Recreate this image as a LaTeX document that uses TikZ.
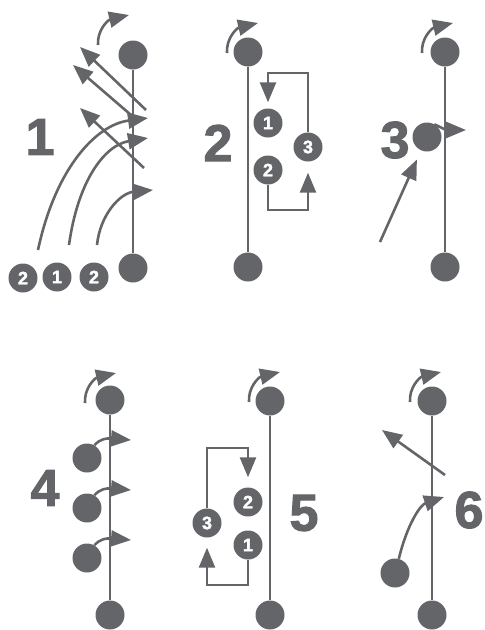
\documentclass[tikz,border=0pt]{standalone}
\usepackage{fontspec}
\setmainfont{Liberation Sans}
\newfontfamily\drillfont{Liberation Sans Bold}[FakeBold=2]
\usepackage{tikz}
\usetikzlibrary{arrows.meta}
\definecolor{playergray}{RGB}{100,101,105}
\tikzset{
    player/.style={circle, fill=playergray, minimum size=29pt, inner sep=0pt,
        font=\fontsize{18}{18}\drillfont, text=white},
    post/.style={draw=playergray, line width=2.6pt},
    route/.style={post, -{Triangle[length=20pt, width=16pt]}},
    drill/.style={font=\fontsize{52}{52}\drillfont, text=playergray}
}

\begin{document}
\begin{tikzpicture}[x=1pt, y=-1pt]
    \useasboundingbox (0,0) rectangle (485,630);
    % 1
    \node[player] (t1) at (133,55) {};
    \node[player] (b1) at (133,268) {};
    \node[player] (n1a) at (23,278) {2};
    \node[player] (n1b) at (57,277) {1};
    \node[player] (n1c) at (94,277) {2};
    \node[drill] (d1) at (40,137) {1};
    \draw[post] (t1) -- (b1);
    \draw[route] (98,45) .. controls (97,30) and (108,20) .. (129,15);
    \draw[route] (146,110) -- (80,47);
    \draw[route] (138,121) -- (73,65);
    \draw[route] (144,168) -- (80,108);
    \draw[route] (38,250) .. controls (55,170) and (95,125) .. (148,118);
    \draw[route] (69,245) .. controls (78,180) and (105,145) .. (148,138);
    \draw[route] (97,245) .. controls (100,215) and (120,193) .. (153,190);
    % 2
    \node[player] (t2) at (248,52) {};
    \node[player] (b2) at (248,267) {};
    \node[player] (p21) at (268,123) {1};
    \node[player] (p22) at (268,170) {2};
    \node[player] (p23) at (308,147) {3};
    \node[drill] (d2) at (218,143) {2};
    \draw[post] (t2) -- (b2);
    \draw[route] (227,53) .. controls (226,38) and (237,28) .. (258,23);
    \draw[route, shorten >=6pt] (p23) |- (268,73) -- (p21);
    \draw[route, shorten >=11pt] (p22) |- (308,210) -- (p23);
    % 3
    \node[player] (t3) at (445,52) {};
    \node[player] (b3) at (445,267) {};
    \node[player] (m3) at (427,137) {};
    \node[drill] (d3) at (395,140) {3};
    \coordinate (c3) at (380,242);
    \draw[post] (t3) -- (b3);
    \draw[route] (422,53) .. controls (421,38) and (432,28) .. (453,23);
    \draw[route] (m3.60) .. controls (446,130) .. (466,130);
    \draw[route, shorten >=10pt] (c3) -- (m3);
    % 4
    \node[player] (t4) at (110,400) {};
    \node[player] (b4) at (110,615) {};
    \node[player] (s41) at (87,458) {};
    \node[player] (s42) at (87,508) {};
    \node[player] (s43) at (87,558) {};
    \node[drill] (d4) at (45,488) {4};
    \draw[post] (t4) -- (b4);
    \draw[route] (85,403) .. controls (84,388) and (95,378) .. (116,373);
    \draw[route] (s41.60) .. controls (100,439) and (106,438) .. (131,440);
    \draw[route] (s42.60) .. controls (100,489) and (106,488) .. (131,490);
    \draw[route] (s43.60) .. controls (100,539) and (106,538) .. (131,540);
    % 5
    \node[player] (t5) at (270,401) {};
    \node[player] (b5) at (270,615) {};
    \node[player] (q52) at (248,502) {2};
    \node[player] (q53) at (207,523) {3};
    \node[player] (q51) at (248,545) {1};
    \node[drill] (d5) at (304,513) {5};
    \draw[post] (t5) -- (b5);
    \draw[route] (249,402) .. controls (248,387) and (259,377) .. (280,372);
    \draw[route, shorten >=10pt] (q53) |- (248,448) -- (q52);
    \draw[route, shorten >=10pt] (q51) |- (207,585) -- (q53);
    % 6
    \node[player] (t6) at (432,401) {};
    \node[player] (b6) at (432,615) {};
    \node[player] (s6) at (395,573) {};
    \node[drill] (d6) at (469,510) {6};
    \draw[post] (t6) -- (b6);
    \draw[route] (410,402) .. controls (409,387) and (420,377) .. (441,372);
    \draw[route] (445,475) -- (382,430);
    \draw[route] (s6.75) .. controls (407,525) and (420,505) .. (444,497);
\end{tikzpicture}
\end{document}
